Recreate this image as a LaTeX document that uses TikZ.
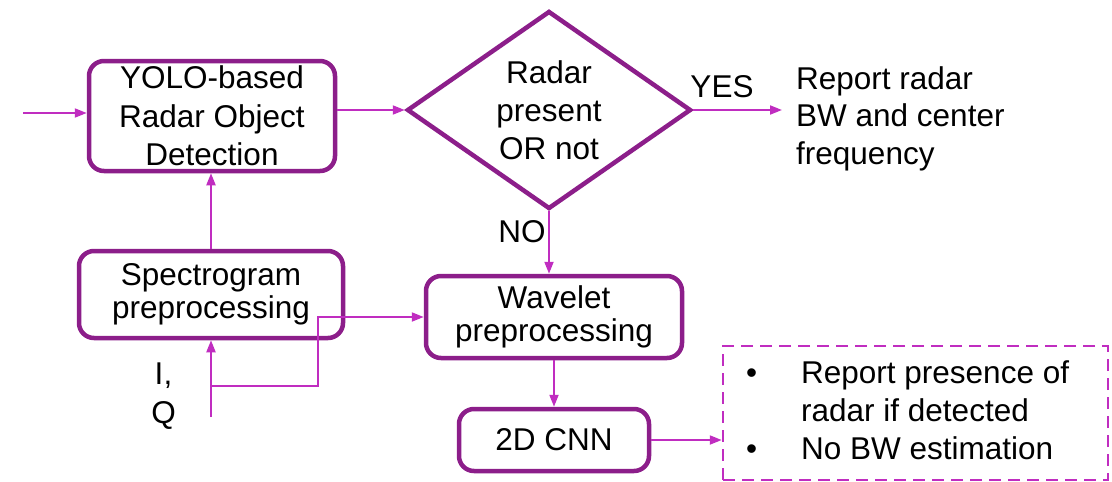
\documentclass[tikz,border=0pt]{standalone}
\usepackage{fontspec}
\setmainfont{Liberation Sans}
\usetikzlibrary{arrows.meta,shapes.geometric}
\definecolor{boxpurple}{RGB}{140,30,138}
\definecolor{arrmag}{RGB}{192,45,192}
\begin{document}
\begin{tikzpicture}[x=1pt,y=-1pt,
  every node/.style={font=\fontsize{31.5}{38.5}\selectfont, text=black},
  procbox/.style={draw=boxpurple, line width=4.5pt, rounded corners=15pt, align=center, inner sep=0pt},
  tight/.style={font=\fontsize{31.5}{32.5}\selectfont},
  decision/.style={diamond, draw=boxpurple, line width=4.5pt, aspect=1.43, inner sep=0pt, align=center, minimum width=284pt, minimum height=198pt, font=\fontsize{31.5}{38}\selectfont},
  flow/.style={draw=arrmag, line width=2pt, -{Triangle[length=12pt,width=9pt]}},
  notebox/.style={draw=arrmag, line width=2.5pt, dash pattern=on 12pt off 7pt, minimum width=385pt, minimum height=134pt, inner sep=0pt},
  plaintext/.style={inner sep=0pt}
]
\useasboundingbox (0,0) rectangle (1112,482);

% boxes
\node[procbox, minimum width=246pt, minimum height=110pt] (yolo) at (212,116) {YOLO-based\\Radar Object\\Detection};
\node[decision] (dia) at (549,110) {Radar\\present\\OR not};
\node[procbox, tight, minimum width=264pt, minimum height=87pt] (spec) at (211,294.5) {Spectrogram\\preprocessing};
\node[procbox, tight, minimum width=256pt, minimum height=82pt] (wav) at (554,317) {Wavelet\\preprocessing};
\node[procbox, minimum width=190pt, minimum height=62pt] (cnn) at (554,440) {2D CNN};
\node[notebox] (note) at (915.5,413) {};

% texts
\node[plaintext, anchor=north west, align=left, font=\fontsize{31.5}{37.5}\selectfont] (report) at (796,66) {Report radar\\BW and center\\frequency};
\node[plaintext, anchor=north west, align=left] (notetext) at (746,360) {\makebox[55pt][l]{•}Report presence of\\\hspace*{55pt}radar if detected\\\makebox[55pt][l]{•}No BW estimation};
\node[plaintext, anchor=base] (yes) at (722,97) {YES};
\node[plaintext, anchor=base] (no) at (522,242) {NO};
\node[plaintext, align=center] (iqlabel) at (163.5,396) {I,\\Q};

% connectors
\coordinate (in) at (23,113);
\coordinate (yesend) at (782,110);
\coordinate (iq) at (211,417);
\coordinate (split) at (211,386);
\coordinate (bend) at (318,386);

\draw[flow] (in) -- (in -| yolo.west);
\draw[flow] (yolo.east |- dia.west) -- (dia.west);
\draw[flow] (dia.east) -- (yesend);
\draw[flow] (dia.south) -- (dia.south |- wav.north);
\draw[flow] (spec.north) -- (spec.north |- yolo.south);
\draw[flow] (iq) -- (spec.south);
\draw[flow] (split) -- (bend) |- (wav.west);
\draw[flow] (wav.south) -- (cnn.north);
\draw[flow] (cnn.east) -- (cnn.east -| note.west);
\end{tikzpicture}
\end{document}
